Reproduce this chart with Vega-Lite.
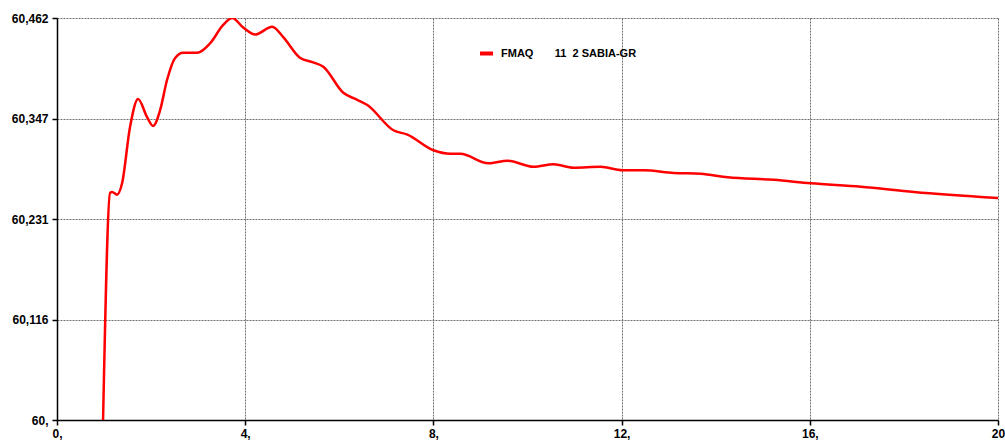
{
  "$schema": "https://vega.github.io/schema/vega-lite/v6.json",
  "width": 941,
  "height": 402,
  "autosize": {"type": "none"},
  "padding": {"left": 57, "top": 18, "right": 7, "bottom": 21},
  "background": "white",
  "config": {
    "view": {"stroke": null},
    "font": "Liberation Sans",
    "axis": {
      "labelFont": "Liberation Sans",
      "labelFontWeight": "bold",
      "labelFontSize": 12,
      "labelColor": "#000000",
      "domainColor": "#000000",
      "domainWidth": 1.5,
      "tickColor": "#000000",
      "tickSize": 5,
      "tickWidth": 1.5,
      "gridColor": "#707070",
      "gridDash": [2, 1],
      "gridWidth": 1,
      "title": null
    }
  },
  "data": {
    "values": [
      {"t": 0.979, "v": 60.000, "s": "FMAQ\u00a0\u00a0\u00a0\u00a0\u00a0\u00a0\u00a011\u00a0\u00a02 SABIA-GR"},
      {"t": 1.128, "v": 60.261, "s": "FMAQ\u00a0\u00a0\u00a0\u00a0\u00a0\u00a0\u00a011\u00a0\u00a02 SABIA-GR"},
      {"t": 1.170, "v": 60.262, "s": "FMAQ\u00a0\u00a0\u00a0\u00a0\u00a0\u00a0\u00a011\u00a0\u00a02 SABIA-GR"},
      {"t": 1.277, "v": 60.259, "s": "FMAQ\u00a0\u00a0\u00a0\u00a0\u00a0\u00a0\u00a011\u00a0\u00a02 SABIA-GR"},
      {"t": 1.383, "v": 60.272, "s": "FMAQ\u00a0\u00a0\u00a0\u00a0\u00a0\u00a0\u00a011\u00a0\u00a02 SABIA-GR"},
      {"t": 1.553, "v": 60.337, "s": "FMAQ\u00a0\u00a0\u00a0\u00a0\u00a0\u00a0\u00a011\u00a0\u00a02 SABIA-GR"},
      {"t": 1.723, "v": 60.369, "s": "FMAQ\u00a0\u00a0\u00a0\u00a0\u00a0\u00a0\u00a011\u00a0\u00a02 SABIA-GR"},
      {"t": 1.915, "v": 60.348, "s": "FMAQ\u00a0\u00a0\u00a0\u00a0\u00a0\u00a0\u00a011\u00a0\u00a02 SABIA-GR"},
      {"t": 2.043, "v": 60.338, "s": "FMAQ\u00a0\u00a0\u00a0\u00a0\u00a0\u00a0\u00a011\u00a0\u00a02 SABIA-GR"},
      {"t": 2.191, "v": 60.356, "s": "FMAQ\u00a0\u00a0\u00a0\u00a0\u00a0\u00a0\u00a011\u00a0\u00a02 SABIA-GR"},
      {"t": 2.340, "v": 60.391, "s": "FMAQ\u00a0\u00a0\u00a0\u00a0\u00a0\u00a0\u00a011\u00a0\u00a02 SABIA-GR"},
      {"t": 2.511, "v": 60.416, "s": "FMAQ\u00a0\u00a0\u00a0\u00a0\u00a0\u00a0\u00a011\u00a0\u00a02 SABIA-GR"},
      {"t": 2.681, "v": 60.422, "s": "FMAQ\u00a0\u00a0\u00a0\u00a0\u00a0\u00a0\u00a011\u00a0\u00a02 SABIA-GR"},
      {"t": 2.979, "v": 60.422, "s": "FMAQ\u00a0\u00a0\u00a0\u00a0\u00a0\u00a0\u00a011\u00a0\u00a02 SABIA-GR"},
      {"t": 3.255, "v": 60.433, "s": "FMAQ\u00a0\u00a0\u00a0\u00a0\u00a0\u00a0\u00a011\u00a0\u00a02 SABIA-GR"},
      {"t": 3.532, "v": 60.454, "s": "FMAQ\u00a0\u00a0\u00a0\u00a0\u00a0\u00a0\u00a011\u00a0\u00a02 SABIA-GR"},
      {"t": 3.723, "v": 60.462, "s": "FMAQ\u00a0\u00a0\u00a0\u00a0\u00a0\u00a0\u00a011\u00a0\u00a02 SABIA-GR"},
      {"t": 3.957, "v": 60.451, "s": "FMAQ\u00a0\u00a0\u00a0\u00a0\u00a0\u00a0\u00a011\u00a0\u00a02 SABIA-GR"},
      {"t": 4.213, "v": 60.443, "s": "FMAQ\u00a0\u00a0\u00a0\u00a0\u00a0\u00a0\u00a011\u00a0\u00a02 SABIA-GR"},
      {"t": 4.574, "v": 60.452, "s": "FMAQ\u00a0\u00a0\u00a0\u00a0\u00a0\u00a0\u00a011\u00a0\u00a02 SABIA-GR"},
      {"t": 4.809, "v": 60.440, "s": "FMAQ\u00a0\u00a0\u00a0\u00a0\u00a0\u00a0\u00a011\u00a0\u00a02 SABIA-GR"},
      {"t": 5.170, "v": 60.416, "s": "FMAQ\u00a0\u00a0\u00a0\u00a0\u00a0\u00a0\u00a011\u00a0\u00a02 SABIA-GR"},
      {"t": 5.447, "v": 60.411, "s": "FMAQ\u00a0\u00a0\u00a0\u00a0\u00a0\u00a0\u00a011\u00a0\u00a02 SABIA-GR"},
      {"t": 5.660, "v": 60.406, "s": "FMAQ\u00a0\u00a0\u00a0\u00a0\u00a0\u00a0\u00a011\u00a0\u00a02 SABIA-GR"},
      {"t": 6.085, "v": 60.376, "s": "FMAQ\u00a0\u00a0\u00a0\u00a0\u00a0\u00a0\u00a011\u00a0\u00a02 SABIA-GR"},
      {"t": 6.383, "v": 60.368, "s": "FMAQ\u00a0\u00a0\u00a0\u00a0\u00a0\u00a0\u00a011\u00a0\u00a02 SABIA-GR"},
      {"t": 6.596, "v": 60.362, "s": "FMAQ\u00a0\u00a0\u00a0\u00a0\u00a0\u00a0\u00a011\u00a0\u00a02 SABIA-GR"},
      {"t": 7.149, "v": 60.333, "s": "FMAQ\u00a0\u00a0\u00a0\u00a0\u00a0\u00a0\u00a011\u00a0\u00a02 SABIA-GR"},
      {"t": 7.447, "v": 60.328, "s": "FMAQ\u00a0\u00a0\u00a0\u00a0\u00a0\u00a0\u00a011\u00a0\u00a02 SABIA-GR"},
      {"t": 8.000, "v": 60.310, "s": "FMAQ\u00a0\u00a0\u00a0\u00a0\u00a0\u00a0\u00a011\u00a0\u00a02 SABIA-GR"},
      {"t": 8.362, "v": 60.306, "s": "FMAQ\u00a0\u00a0\u00a0\u00a0\u00a0\u00a0\u00a011\u00a0\u00a02 SABIA-GR"},
      {"t": 8.574, "v": 60.306, "s": "FMAQ\u00a0\u00a0\u00a0\u00a0\u00a0\u00a0\u00a011\u00a0\u00a02 SABIA-GR"},
      {"t": 9.170, "v": 60.295, "s": "FMAQ\u00a0\u00a0\u00a0\u00a0\u00a0\u00a0\u00a011\u00a0\u00a02 SABIA-GR"},
      {"t": 9.574, "v": 60.298, "s": "FMAQ\u00a0\u00a0\u00a0\u00a0\u00a0\u00a0\u00a011\u00a0\u00a02 SABIA-GR"},
      {"t": 10.128, "v": 60.291, "s": "FMAQ\u00a0\u00a0\u00a0\u00a0\u00a0\u00a0\u00a011\u00a0\u00a02 SABIA-GR"},
      {"t": 10.553, "v": 60.294, "s": "FMAQ\u00a0\u00a0\u00a0\u00a0\u00a0\u00a0\u00a011\u00a0\u00a02 SABIA-GR"},
      {"t": 10.979, "v": 60.290, "s": "FMAQ\u00a0\u00a0\u00a0\u00a0\u00a0\u00a0\u00a011\u00a0\u00a02 SABIA-GR"},
      {"t": 11.553, "v": 60.291, "s": "FMAQ\u00a0\u00a0\u00a0\u00a0\u00a0\u00a0\u00a011\u00a0\u00a02 SABIA-GR"},
      {"t": 12.021, "v": 60.287, "s": "FMAQ\u00a0\u00a0\u00a0\u00a0\u00a0\u00a0\u00a011\u00a0\u00a02 SABIA-GR"},
      {"t": 12.468, "v": 60.287, "s": "FMAQ\u00a0\u00a0\u00a0\u00a0\u00a0\u00a0\u00a011\u00a0\u00a02 SABIA-GR"},
      {"t": 13.106, "v": 60.284, "s": "FMAQ\u00a0\u00a0\u00a0\u00a0\u00a0\u00a0\u00a011\u00a0\u00a02 SABIA-GR"},
      {"t": 13.681, "v": 60.283, "s": "FMAQ\u00a0\u00a0\u00a0\u00a0\u00a0\u00a0\u00a011\u00a0\u00a02 SABIA-GR"},
      {"t": 14.255, "v": 60.279, "s": "FMAQ\u00a0\u00a0\u00a0\u00a0\u00a0\u00a0\u00a011\u00a0\u00a02 SABIA-GR"},
      {"t": 15.234, "v": 60.276, "s": "FMAQ\u00a0\u00a0\u00a0\u00a0\u00a0\u00a0\u00a011\u00a0\u00a02 SABIA-GR"},
      {"t": 16.021, "v": 60.272, "s": "FMAQ\u00a0\u00a0\u00a0\u00a0\u00a0\u00a0\u00a011\u00a0\u00a02 SABIA-GR"},
      {"t": 17.085, "v": 60.268, "s": "FMAQ\u00a0\u00a0\u00a0\u00a0\u00a0\u00a0\u00a011\u00a0\u00a02 SABIA-GR"},
      {"t": 18.213, "v": 60.262, "s": "FMAQ\u00a0\u00a0\u00a0\u00a0\u00a0\u00a0\u00a011\u00a0\u00a02 SABIA-GR"},
      {"t": 20.000, "v": 60.255, "s": "FMAQ\u00a0\u00a0\u00a0\u00a0\u00a0\u00a0\u00a011\u00a0\u00a02 SABIA-GR"}
    ]
  },
  "mark": {"type": "line", "interpolate": "monotone", "strokeWidth": 2.5, "clip": true},
  "encoding": {
    "x": {
      "field": "t",
      "type": "quantitative",
      "scale": {"domain": [0, 20], "nice": false, "zero": false},
      "axis": {
        "values": [0, 4, 8, 12, 16, 20],
        "labelExpr": "datum.value == 20 ? '20' : datum.value + ','",
        "labelPadding": 3,
        "labelFlush": false
      }
    },
    "y": {
      "field": "v",
      "type": "quantitative",
      "scale": {"domain": [60, 60.462], "nice": false, "zero": false},
      "axis": {
        "values": [60, 60.1155, 60.231, 60.3465, 60.462],
        "labelExpr": "datum.value < 60.01 ? '60,' : replace(format(datum.value + 0.00001, '.3f'), '.', ',')",
        "labelPadding": 4
      }
    },
    "color": {
      "field": "s",
      "type": "nominal",
      "scale": {"range": ["#ff0000"]},
      "legend": {
        "title": null,
        "orient": "none",
        "legendX": 421,
        "legendY": 27,
        "symbolType": "stroke",
        "symbolStrokeWidth": 4,
        "symbolSize": 169,
        "labelFont": "Liberation Sans",
        "labelFontWeight": "bold",
        "labelFontSize": 11,
        "labelColor": "#000000",
        "labelOffset": 6,
        "padding": 0
      }
    }
  }
}
